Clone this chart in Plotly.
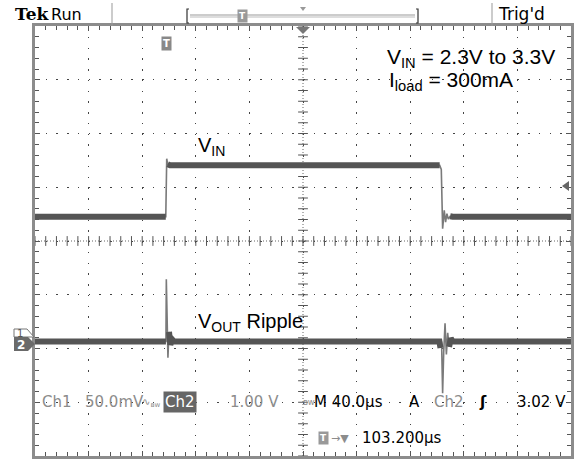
import plotly.graph_objects as go

# ---------------- data ----------------
US_PER_DIV = 40.0            # M 40.0µs
T_LEFT_US = -96.8            # screen left, relative to trigger (centre = 103.2 µs)
CH2_V_PER_DIV = 1.0          # VIN channel
CH1_MV_PER_DIV = 50.0        # ripple channel
GROUND_DIV = -1.87           # channel ground markers (divisions from centre)

vin_time_us = [-96.8, 0.8, 1.5, 2.2, 4.0, 205.2, 206.4, 207.4, 208.6, 209.6,
               210.6, 211.6, 213.0, 215.0, 303.2]
vin_volts = [2.32, 2.32, 3.40, 3.30, 3.28, 3.28, 3.20, 2.10, 2.44, 2.22,
             2.38, 2.28, 2.33, 2.32, 2.32]

ripple_time_us = [-96.8, 0.9, 1.2, 1.5, 1.9, 2.4, 3.2, 4.2, 5.5, 7.0,
                  205.0, 205.8, 206.6, 207.4, 208.2, 209.2, 210.2, 211.2,
                  212.2, 213.5, 215.0, 303.2]
ripple_mv = [0, 0, 58, 42, 36, -15, 9, -3, 2, 0,
             0, -6, 0, -48, -10, 17, -12, 8,
             -5, 3, 0, 0]

vin_edge_windows = [(0.8, 2.2), (205.2, 213.0)]
ripple_edge_windows = [(0.9, 3.2), (205.8, 212.2)]

status_left = ["Ch1", "50.0mV"]
status_ch2 = "Ch2"
status_ch2_scale = "1.00 V"
status_time = "M 40.0µs"
status_trig = ["A", "Ch2", "3.02 V"]
status_pos = "103.200µs"

# ---------------- geometry helpers ----------------
L, R, T, B = 35, 571, 26, 456
W, H = R - L, B - T


def fx(px):
    return (px - L) / W


def fy(py):
    return (B - py) / H


def flat_only(ts, ys, windows):
    return [None if any(a < t < b for a, b in windows) else y for t, y in zip(ts, ys)]


vin_div = [v / CH2_V_PER_DIV + GROUND_DIV for v in vin_volts]
rip_div = [m / CH1_MV_PER_DIV + GROUND_DIV for m in ripple_mv]

x_min = T_LEFT_US
x_max = T_LEFT_US + 10 * US_PER_DIV
x_mid = (x_min + x_max) / 2

fig = go.Figure()

# centre-line tick marks
cx = [x_min + i * US_PER_DIV / 5 for i in range(51)]
cy = [-4 + i * 0.2 for i in range(41)]
fig.add_trace(go.Scatter(x=cx, y=[0] * len(cx), mode="markers", hoverinfo="skip",
                         marker=dict(symbol="line-ns", size=7, line=dict(width=1, color="#555")),
                         showlegend=False))
fig.add_trace(go.Scatter(x=[x_mid] * len(cy), y=cy, mode="markers", hoverinfo="skip",
                         marker=dict(symbol="line-ew", size=7, line=dict(width=1, color="#555")),
                         showlegend=False))

# traces: thin line for edges + thick noisy band on flat parts
for ts, ys, win in [(vin_time_us, vin_div, vin_edge_windows),
                    (ripple_time_us, rip_div, ripple_edge_windows)]:
    fig.add_trace(go.Scatter(x=ts, y=ys, mode="lines", showlegend=False,
                             line=dict(color="#7a7a7a", width=1.6)))
    fig.add_trace(go.Scatter(x=ts, y=flat_only(ts, ys, win), mode="lines",
                             connectgaps=False, showlegend=False,
                             line=dict(color="#555555", width=6)))

# centre dotted lines
shapes = [
    dict(type="line", xref="x", yref="paper", x0=x_mid, x1=x_mid, y0=0, y1=1,
         line=dict(color="#666", width=1, dash="1px,2px"), layer="below"),
    dict(type="line", xref="paper", yref="y", x0=0, x1=1, y0=0, y1=0,
         line=dict(color="#666", width=1, dash="1px,2px"), layer="below"),
    # top bar separators
    dict(type="line", xref="paper", yref="paper", x0=fx(112), x1=fx(112), y0=fy(3), y1=fy(26),
         line=dict(color="#999", width=1)),
    dict(type="line", xref="paper", yref="paper", x0=fx(492), x1=fx(492), y0=fy(3), y1=fy(26),
         line=dict(color="#999", width=1)),
    # record view bar
    dict(type="line", xref="paper", yref="paper", x0=fx(190), x1=fx(415), y0=fy(15), y1=fy(15),
         line=dict(color="#999", width=1)),
    dict(type="line", xref="paper", yref="paper", x0=fx(190), x1=fx(415), y0=fy(17), y1=fy(17),
         line=dict(color="#bbb", width=1)),
    dict(type="path", xref="paper", yref="paper",
         path=f"M{fx(189)},{fy(9)} L{fx(187)},{fy(9)} L{fx(187)},{fy(23)} L{fx(189)},{fy(23)}",
         line=dict(color="#333", width=1.2)),
    dict(type="path", xref="paper", yref="paper",
         path=f"M{fx(416)},{fy(9)} L{fx(418)},{fy(9)} L{fx(418)},{fy(23)} L{fx(416)},{fy(23)}",
         line=dict(color="#333", width=1.2)),
    dict(type="path", xref="paper", yref="paper",
         path=f"M{fx(300)},{fy(7)} L{fx(306)},{fy(7)} L{fx(303)},{fy(11)} Z",
         fillcolor="#999", line=dict(width=0)),
    # trigger position marker on top border
    dict(type="path", xref="paper", yref="paper",
         path=f"M{fx(296)},{fy(27)} L{fx(310)},{fy(27)} L{fx(303)},{fy(34)} Z",
         fillcolor="#777", line=dict(width=0)),
    # trigger level arrow right side
    dict(type="path", xref="paper", yref="paper",
         path=f"M{fx(562)},{fy(186)} L{fx(569)},{fy(181)} L{fx(569)},{fy(191)} Z",
         fillcolor="#666", line=dict(width=0)),
    # channel markers
    dict(type="path", xref="paper", yref="paper",
         path=f"M{fx(14)},{fy(329)} L{fx(27)},{fy(329)} L{fx(34)},{fy(337)} L{fx(14)},{fy(337)} Z",
         fillcolor="white", line=dict(color="#777", width=1)),
    dict(type="path", xref="paper", yref="paper",
         path=f"M{fx(14)},{fy(337)} L{fx(28)},{fy(337)} L{fx(35)},{fy(344)} L{fx(28)},{fy(351)} L{fx(14)},{fy(351)} Z",
         fillcolor="#6a6a6a", line=dict(width=0)),
]

ann = []


def add_text(text, px, py, size=15, color="#000", anchor="left", family="Liberation Sans", **kw):
    ann.append(dict(text=text, x=fx(px), y=fy(py), xref="paper", yref="paper",
                    xanchor=anchor, yanchor="middle", showarrow=False,
                    font=dict(size=size, color=color, family=family), **kw))


# top bar
add_text("<b>Tek</b>", 13, 14, size=17, family="DejaVu Serif")
add_text("Run", 49, 14, size=16, family="DejaVu Sans")
add_text("Trig'd", 496, 14, size=17, family="DejaVu Sans")
add_text("<b>T</b>", 242, 16, size=9, color="white", anchor="center", family="DejaVu Sans",
         bgcolor="#999", borderpad=1)

# T marker in grid
add_text("<b>T</b>", 166, 43, size=10, color="white", anchor="center", family="DejaVu Sans",
         bgcolor="#888", borderpad=1)

# channel marker labels
add_text("1", 20, 333, size=10, color="#555", anchor="center", family="DejaVu Sans")
add_text("<b>2</b>", 21, 345, size=12, color="white", anchor="center", family="DejaVu Sans")

# annotations
add_text("V<sub>IN</sub> = 2.3V to 3.3V", 385, 58, size=21, family="Liberation Sans")
add_text("I<sub>load</sub> = 300mA", 387, 81, size=21, family="Liberation Sans")
add_text("V<sub>IN</sub>", 196, 146, size=20, family="Liberation Sans")
add_text("V<sub>OUT</sub> Ripple", 196, 322, size=20, family="Liberation Sans")

# status line
SF = "DejaVu Sans"
SY = 402
GREY = "#8c8c8c"
add_text(status_left[0], 40, SY, size=15, color=GREY, family=SF)
add_text(status_left[1], 83, SY, size=15, color=GREY, family=SF)
add_text("∿<sub>ʙᴡ</sub>", 140, SY, size=10, color=GREY, family=SF)
add_text(status_ch2, 163, SY, size=15, color="white", family=SF, bgcolor="#666", borderpad=1)
add_text(status_ch2_scale, 228, SY, size=15, color=GREY, family=SF)
add_text("<sub>ʙᴡ</sub>", 301, SY, size=12, color=GREY, family=SF)
add_text(status_time, 312, SY, size=15, color="#000", family=SF)
add_text(status_trig[0], 407, SY, size=15, color="#000", family=SF)
add_text(status_trig[1], 432, SY, size=15, color=GREY, family=SF)
add_text("<b>ʃ</b>", 477, SY, size=15, color="#000", family=SF)
add_text(status_trig[2], 515, SY, size=15, color="#000", family=SF)
add_text("<b>T</b>", 323, 438, size=9, color="white", anchor="center", family=SF,
         bgcolor="#999", borderpad=1)
add_text("→▼", 329, 438, size=11, color=GREY, family=SF)
add_text(status_pos, 360, 438, size=15, color="#000", family=SF)

fig.update_layout(
    width=576, height=459,
    margin=dict(l=L, r=576 - R, t=T, b=459 - B),
    paper_bgcolor="white", plot_bgcolor="white",
    shapes=shapes, annotations=ann, showlegend=False,
    xaxis=dict(range=[x_min, x_max], tick0=x_min, dtick=US_PER_DIV,
               showgrid=True, gridcolor="#444", gridwidth=1.3, griddash="1.5px,9.25px",
               showline=True, linecolor="#8c8c8c", linewidth=3, mirror="allticks",
               ticks="inside", ticklen=5, tickcolor="#555", tickwidth=1,
               minor=dict(tick0=x_min, dtick=US_PER_DIV / 5, ticks="inside", ticklen=4,
                          tickcolor="#555", showgrid=False),
               showticklabels=False, zeroline=False, fixedrange=True),
    yaxis=dict(range=[-4, 4], tick0=-4, dtick=1,
               showgrid=True, gridcolor="#444", gridwidth=1.3, griddash="1.5px,9.22px",
               showline=True, linecolor="#8c8c8c", linewidth=3, mirror="allticks",
               ticks="inside", ticklen=5, tickcolor="#555", tickwidth=1,
               minor=dict(tick0=-4, dtick=0.2, ticks="inside", ticklen=4,
                          tickcolor="#555", showgrid=False),
               showticklabels=False, zeroline=False, fixedrange=True),
)

fig.write_html(
    "out.html",
    config={"displayModeBar": False},
    post_script="document.body.style.margin='0';document.body.style.overflow='hidden';",
)
